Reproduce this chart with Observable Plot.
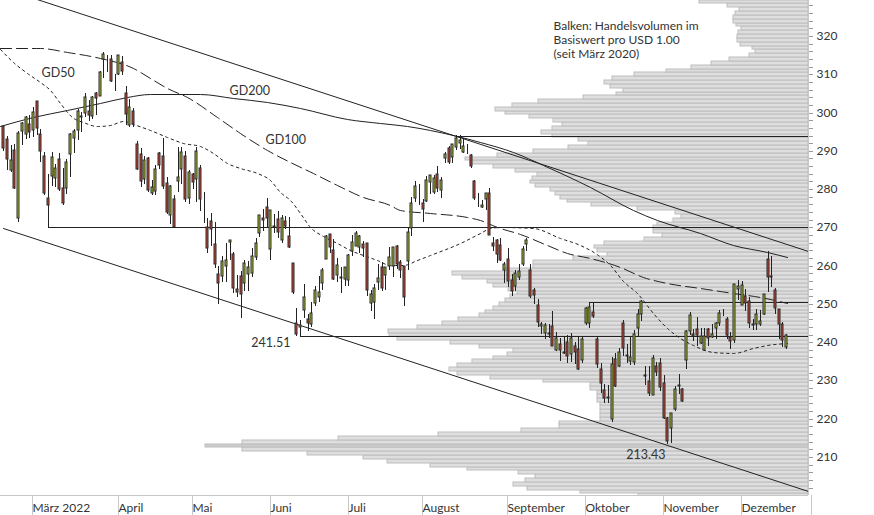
<!DOCTYPE html>
<html>
<head>
<meta charset="utf-8">
<script src="https://cdn.jsdelivr.net/npm/d3@7"></script>
<script src="https://cdn.jsdelivr.net/npm/@observablehq/plot@0.6"></script>
<style>
html,body{margin:0;padding:0;background:#fff;}
#chart svg{display:block;}
</style>
</head>
<body>
<div id="chart"></div>
<script>
// ---- Daily candles (trading days) ----
const dates = [
"2022-02-17","2022-02-18","2022-02-22","2022-02-23","2022-02-24","2022-02-25","2022-02-28",
"2022-03-01","2022-03-02","2022-03-03","2022-03-04","2022-03-07","2022-03-08","2022-03-09","2022-03-10","2022-03-11","2022-03-14","2022-03-15","2022-03-16","2022-03-17","2022-03-18","2022-03-21","2022-03-22","2022-03-23","2022-03-24","2022-03-25","2022-03-28","2022-03-29","2022-03-30","2022-03-31",
"2022-04-01","2022-04-04","2022-04-05","2022-04-06","2022-04-07","2022-04-08","2022-04-11","2022-04-12","2022-04-13","2022-04-14","2022-04-18","2022-04-19","2022-04-20","2022-04-21","2022-04-22","2022-04-25","2022-04-26","2022-04-27","2022-04-28","2022-04-29",
"2022-05-02","2022-05-03","2022-05-04","2022-05-05","2022-05-06","2022-05-09","2022-05-10","2022-05-11","2022-05-12","2022-05-13","2022-05-16","2022-05-17","2022-05-18","2022-05-19","2022-05-20","2022-05-23","2022-05-24","2022-05-25","2022-05-26","2022-05-27","2022-05-31",
"2022-06-01","2022-06-02","2022-06-03","2022-06-06","2022-06-07","2022-06-08","2022-06-09","2022-06-10","2022-06-13","2022-06-14","2022-06-15","2022-06-16","2022-06-17","2022-06-21","2022-06-22","2022-06-23","2022-06-24","2022-06-27","2022-06-28","2022-06-29","2022-06-30",
"2022-07-01","2022-07-05","2022-07-06","2022-07-07","2022-07-08","2022-07-11","2022-07-12","2022-07-13","2022-07-14","2022-07-15","2022-07-18","2022-07-19","2022-07-20","2022-07-21","2022-07-22","2022-07-25","2022-07-26","2022-07-27","2022-07-28","2022-07-29",
"2022-08-01","2022-08-02","2022-08-03","2022-08-04","2022-08-05","2022-08-08","2022-08-09","2022-08-10","2022-08-11","2022-08-12","2022-08-15","2022-08-16","2022-08-17","2022-08-18","2022-08-19","2022-08-22","2022-08-23","2022-08-24","2022-08-25","2022-08-26","2022-08-29","2022-08-30","2022-08-31",
"2022-09-01","2022-09-02","2022-09-06","2022-09-07","2022-09-08","2022-09-09","2022-09-12","2022-09-13","2022-09-14","2022-09-15","2022-09-16","2022-09-19","2022-09-20","2022-09-21","2022-09-22","2022-09-23","2022-09-26","2022-09-27","2022-09-28","2022-09-29","2022-09-30",
"2022-10-03","2022-10-04","2022-10-05","2022-10-06","2022-10-07","2022-10-10","2022-10-11","2022-10-12","2022-10-13","2022-10-14","2022-10-17","2022-10-18","2022-10-19","2022-10-20","2022-10-21","2022-10-24","2022-10-25","2022-10-26","2022-10-27","2022-10-28","2022-10-31",
"2022-11-01","2022-11-02","2022-11-03","2022-11-04","2022-11-07","2022-11-08","2022-11-09","2022-11-10","2022-11-11","2022-11-14","2022-11-15","2022-11-16","2022-11-17","2022-11-18","2022-11-21","2022-11-22","2022-11-23","2022-11-25","2022-11-28","2022-11-29","2022-11-30",
"2022-12-01","2022-12-02","2022-12-05","2022-12-06","2022-12-07","2022-12-08","2022-12-09","2022-12-12","2022-12-13","2022-12-14","2022-12-15","2022-12-16","2022-12-19","2022-12-20"
];
const open = [
296.36,293.05,285.00,290.18,272.51,295.14,294.31,
297.07,295.36,302.89,294.29,288.53,277.80,283.44,283.02,287.96,280.34,280.35,289.11,293.29,295.37,298.89,299.80,300.51,299.14,305.23,304.33,313.91,313.76,313.90,
309.37,310.09,313.27,305.19,296.66,300.44,291.79,289.24,282.73,288.09,278.91,279.38,289.40,288.58,281.68,273.29,277.50,282.10,285.19,288.61,
277.71,283.96,282.59,285.54,274.81,270.06,271.69,265.68,257.69,257.35,259.96,266.11,263.00,253.90,257.24,255.49,257.89,258.14,262.27,268.48,272.53,
275.20,264.45,270.31,272.06,266.64,271.71,267.78,260.58,245.11,243.86,248.31,245.98,244.70,250.26,251.89,255.57,261.81,268.21,263.98,257.59,257.05,
256.39,256.16,263.75,265.12,264.79,265.65,265.88,250.19,250.57,255.72,259.75,257.58,259.90,259.79,265.24,261.00,259.86,261.16,269.75,277.70,
277.82,276.48,276.76,281.97,279.15,284.05,279.64,288.17,290.85,288.48,291.00,291.99,289.74,290.19,288.90,282.08,276.44,275.41,277.33,279.08,265.85,266.67,265.39,
258.87,261.70,256.20,254.70,257.16,260.31,265.56,258.84,253.53,249.77,244.26,242.47,242.07,244.27,237.87,239.54,237.05,239.98,236.81,238.89,238.29,
235.41,245.09,245.01,247.93,240.90,233.05,227.62,225.40,219.85,235.54,233.77,245.10,236.60,235.17,234.74,243.76,247.26,231.17,229.77,226.24,233.76,
234.60,229.46,220.08,217.55,222.60,228.60,227.78,235.43,242.99,242.26,243.57,239.87,237.90,243.51,241.43,243.59,245.11,247.31,246.08,241.40,240.57,
253.87,249.82,252.01,250.82,244.83,244.83,244.70,247.45,261.69,257.13,253.72,248.55,244.86,238.79
];
const high = [
296.80,293.86,291.54,291.70,295.16,297.63,299.14,
299.30,301.47,303.13,295.66,289.69,283.96,289.60,286.60,289.51,285.40,287.82,294.57,295.61,301.00,300.14,305.00,303.23,304.20,305.50,310.80,315.95,315.14,315.14,
310.13,315.11,314.87,307.00,303.65,301.12,292.61,290.74,288.58,288.31,282.46,286.17,289.70,293.30,283.20,281.11,278.36,290.97,290.98,289.88,
284.94,284.13,290.88,286.35,279.25,272.36,273.75,271.36,259.88,262.45,265.82,266.60,263.60,257.67,258.54,261.50,261.33,264.58,267.11,273.34,274.77,
277.69,274.65,273.45,274.18,273.13,273.00,272.71,260.58,249.02,245.74,255.30,247.42,250.50,254.75,257.17,259.37,267.98,268.30,266.91,261.97,259.53,
259.77,262.98,267.99,269.06,268.10,266.53,265.94,253.55,255.14,260.37,260.84,259.72,264.87,264.89,265.33,261.50,259.88,270.05,277.84,282.00,
281.28,277.50,283.50,283.61,283.65,285.92,283.08,289.81,291.21,291.91,294.18,294.04,293.35,291.91,289.25,282.46,278.86,277.23,279.02,280.34,267.40,267.05,267.11,
260.89,264.74,257.83,258.84,260.35,265.06,267.27,260.40,254.23,251.40,245.30,245.14,244.74,248.21,242.67,241.13,241.45,241.80,242.33,239.95,241.44,
241.31,249.30,250.36,250.35,241.32,234.56,229.06,228.86,236.06,237.24,238.52,245.81,239.59,241.29,243.25,248.58,251.04,233.69,233.81,236.57,234.92,
235.74,231.30,220.41,221.59,228.58,231.65,228.10,243.08,247.99,243.34,246.58,243.80,243.75,243.74,244.67,245.29,248.28,248.70,246.65,242.79,255.33,
256.12,256.06,253.82,251.86,246.16,248.74,248.31,252.54,263.92,262.59,254.20,248.55,245.21,242.21
];
const low = [
290.00,284.98,284.50,280.10,271.52,291.65,293.00,
293.30,293.70,294.05,287.17,278.53,270.00,280.78,280.58,279.43,275.82,278.73,283.20,289.37,292.73,294.90,298.77,297.72,298.32,299.29,304.33,309.05,310.48,307.89,
305.54,309.71,309.87,296.71,296.35,296.28,285.00,280.49,281.30,279.32,278.34,278.41,285.37,280.06,273.38,270.77,270.00,279.16,281.46,276.50,
276.22,280.15,276.73,274.34,271.27,263.32,265.07,259.30,250.02,255.82,255.78,261.43,252.77,251.88,246.44,253.43,253.50,257.13,261.43,267.56,268.93,
270.04,261.60,268.41,267.22,265.94,269.61,264.63,252.53,241.53,241.51,246.42,243.02,244.03,249.51,250.37,253.63,261.72,263.28,256.32,255.76,252.90,
254.61,254.74,262.40,265.02,263.29,262.18,252.04,248.11,245.94,253.69,253.30,253.68,258.91,257.03,259.07,256.81,249.57,258.85,267.87,276.63,
275.84,271.30,276.61,278.80,278.68,279.32,277.61,286.94,286.51,286.94,290.11,290.42,289.47,289.08,285.56,277.22,275.40,275.11,274.52,267.98,263.85,260.66,261.33,
255.41,254.47,251.94,253.32,256.19,259.97,263.82,251.59,249.86,244.02,242.06,240.85,241.05,238.90,237.81,235.20,236.90,234.50,234.73,234.41,232.73,
234.62,244.62,243.73,246.37,233.27,226.73,224.11,224.07,219.13,228.34,233.43,236.42,234.51,233.92,234.09,241.29,245.47,228.79,225.85,226.18,231.15,
227.33,220.04,213.43,213.78,222.02,226.52,224.33,233.00,241.94,240.32,238.95,239.50,237.70,239.03,241.19,240.71,244.27,246.73,240.80,238.21,239.86,
250.91,249.69,248.06,243.78,243.06,243.08,244.16,247.17,253.07,254.31,247.34,240.93,238.71,238.21
];
const close = [
290.73,287.93,287.72,280.27,294.59,297.31,298.79,
294.95,300.19,295.92,289.86,278.91,275.85,288.50,285.59,280.07,276.44,287.15,294.39,295.22,300.43,299.16,304.06,299.49,304.10,303.68,310.70,315.41,313.86,308.31,
309.42,314.97,310.88,299.50,301.37,296.97,285.26,282.06,287.62,279.83,280.52,285.30,286.36,280.81,274.03,280.72,270.22,283.22,289.63,277.52,
284.47,281.78,289.98,277.35,274.73,264.58,269.50,260.55,255.35,261.12,261.50,266.82,254.08,253.14,252.56,260.65,259.62,262.52,265.90,273.24,271.87,
272.42,274.58,270.02,268.75,272.50,270.41,264.79,252.99,242.26,244.49,251.76,244.97,247.65,253.74,253.13,258.86,267.70,264.89,256.48,260.26,256.83,
259.58,262.85,266.21,268.40,267.66,264.51,253.67,252.72,254.08,256.72,254.25,259.53,262.27,264.84,260.36,258.83,251.90,268.74,276.41,280.74,
278.01,274.82,282.47,283.65,282.91,280.32,282.30,289.16,287.02,291.91,293.47,292.71,291.32,290.17,286.15,277.75,276.44,275.79,278.85,268.09,265.23,262.97,261.47,
260.40,256.06,253.25,258.09,258.52,264.46,266.65,251.99,252.22,245.38,244.74,244.52,242.45,238.95,240.98,237.92,237.45,236.41,241.07,237.50,232.90,
240.74,248.88,249.20,246.79,234.24,229.25,225.41,225.75,234.24,228.56,237.53,238.50,236.48,236.15,242.12,247.25,250.66,231.32,226.75,235.87,232.13,
228.17,220.10,214.25,221.39,227.87,228.87,224.51,242.98,247.11,241.55,241.97,241.73,241.68,241.22,242.05,245.03,247.58,247.49,241.76,240.33,255.14,
254.69,255.02,250.20,245.12,244.37,247.40,245.42,252.51,256.92,257.22,249.01,244.69,240.45,241.80
];

// ---- Month labels (bottom axis) ----
const monthLabels = ["März 2022","April","Mai","Juni","Juli","August","September","Oktober","November","Dezember"];

// ---- Volume profile: one bar per USD 1.00, from 200 to 329 (relative volume, %) ----
const volumeFirstPrice = 200;
const volume = [
28.2,37.8,46.6,48.9,46.9,45.3,48.1,56.6,62.7,69.8,
73.8,83.1,93.9,100,93.9,77.9,61.4,47.6,41.3,41.3,
34.5,34.5,34.5,34.5,34.5,35.0,35.0,35.0,36.2,36.2,
43.9,52.7,58.2,59.5,58.2,55.7,52.2,49.9,48.9,54.6,
59.4,68.2,69.5,69.7,64.8,60.7,58.0,54.6,53.6,52.2,
51.2,50.2,49.4,48.3,49.8,52.2,53.2,57.4,59.0,50.2,
45.6,45.6,39.0,33.3,35.0,35.5,33.8,27.2,24.2,25.7,
25.7,25.0,22.4,21.1,22.1,28.4,36.0,40.0,41.1,42.0,
42.8,45.3,46.1,45.8,44.9,48.6,52.2,56.1,56.9,51.6,
45.6,39.8,36.5,38.1,42.5,44.3,42.5,40.8,42.3,46.3,
50.2,51.9,49.1,44.8,37.3,31.8,30.7,32.8,33.8,32.5,
28.9,23.5,19.4,16.1,13.1,9.8,8.8,9.3,11.3,11.8,
11.8,11.6,11.1,11.9,12.4,12.4,12.1,11.4,13.4,18.1
];

// ---- Moving averages: [trading-day position, value] ----
const gd50 = [[-0.89,316.6],[2.61,313.2],[6.39,310.3],[9.89,308.0],[12.59,305.9],[15.28,302.5],[18.52,298.8],[21.48,297.5],[25.26,296.5],[28.76,296.8],[32.26,297.8],[34.96,297.0],[39.54,295.4],[44.12,293.6],[48.44,292.0],[53.02,291.3],[56.52,289.4],[60.3,286.8],[63.8,285.5],[68.38,284.2],[71.88,282.4],[74.58,279.2],[77.28,277.2],[79.97,273.8],[82.67,270.1],[86.17,267.7],[89.95,265.9],[93.45,264.1],[96.95,262.8],[100.73,261.5],[104.23,260.2],[107.73,260.2],[111.51,261.5],[115.01,262.8],[123.1,265.9],[128.49,268.5],[131.19,269.8],[133.88,270.1],[142.78,269.8],[150.05,267.2],[155.44,265.4],[160.3,262.8],[163.53,260.2],[167.04,256.0],[170.81,252.9],[175.13,247.6],[178.9,243.7],[182.4,241.1],[185.9,239.3],[191.3,237.4],[196.7,237.2],[202.1,238.5],[205.8,239.3],[211.2,239.8]];
const gd100 = [[-0.89,316.9],[9.89,316.9],[17.17,315.8],[26.06,314.3],[34.96,311.6],[39.54,309.0],[44.12,306.4],[49.51,304.1],[57.6,298.8],[63.8,294.7],[71.08,290.2],[77.28,287.1],[83.48,284.2],[89.95,281.1],[96.95,277.9],[104.23,275.8],[106.93,274.5],[115.01,273.8],[124.98,272.7],[128.49,271.9],[133.07,270.1],[139.27,268.3],[146.55,265.4],[151.94,263.3],[158.14,262.0],[166.23,259.6],[172.43,257.0],[178.9,255.5],[187.79,254.2],[196.69,252.9],[203.97,251.8],[211.2,250.3]];
const gd200 = [[-0.89,296.5],[8.0,298.8],[17.17,300.7],[26.06,302.5],[33.34,304.1],[39.54,304.9],[53.02,304.9],[61.9,303.8],[71.08,302.8],[79.97,301.2],[92.64,298.3],[101.53,297.3],[108.81,296.5],[115.01,295.4],[122.29,293.9],[128.49,292.3],[137.38,289.7],[145.47,286.3],[158.14,280.6],[169.73,274.5],[176.2,271.9],[187.79,268.5],[196.69,265.4],[205.85,263.6],[211.24,262.3]];

// ---- Trend channel (two points each) ----
const trendPos = [0, 216.9];
const trendUpper = [332.65, 263.8];
const trendLower = [269.82, 201.1];

// ---- Horizontal support / resistance lines ----
const levelDates = ["2022-03-08","2022-06-14","2022-08-15","2022-10-05"];
const levelValues = [270.0, 241.51, 293.8, 250.4];

const captionLines = ["Balken: Handelsvolumen im","Basiswert pro USD 1.00","(seit März 2020)"];
const maLabels = ["GD50","GD200","GD100"];

// ---------------------------------------------------------------
const X0 = -0.89, X1 = 216.9, Y0 = 200.07, Y1 = 329.41;
const GREEN = "#adc12b", RED = "#d0432d", INK = "#222";
const idx = new Map(dates.map((d,i)=>[d,i]));
const candles = dates.map((d,i)=>({i, o:open[i], h:high[i], l:low[i], c:close[i]}));
const monthStarts = [];
for (let i=1;i<dates.length;i++) if (dates[i].slice(5,7)!==dates[i-1].slice(5,7)) monthStarts.push(i);
const tickLabel = new Map(monthStarts.map((i,k)=>[i, monthLabels[k]]));
const vmax = d3.max(volume);
const VOL_SPAN = 162.5;
const bars = volume.map((v,k)=>({p: volumeFirstPrice + k, v}));
const levels = levelDates.map((d,k)=>({i: idx.get(d), v: levelValues[k]}));
const up = trendPos.map((x,k)=>({x, y: trendUpper[k]}));
const lo = trendPos.map((x,k)=>({x, y: trendLower[k]}));
const ma = a => a.map(([x,y])=>({x,y}));
const hw = 1/3.71;
const iLow = d3.minIndex(low);
const iJun = idx.get("2022-06-14");

const chart = Plot.plot({
  width: 874, height: 515,
  marginLeft: 0, marginTop: 0, marginRight: 66, marginBottom: 20,
  x: {domain: [X0, X1], round: true},
  y: {domain: [Y0, Y1], round: true},
  style: {fontFamily: "Lato, sans-serif", fontSize: "12px", background: "#fff", color: "#333"},
  marks: [
    Plot.rect(bars, {x1: d => X1 - d.v/vmax*VOL_SPAN, x2: () => X1, y1: d => d.p - 0.5, y2: d => d.p + 0.5,
      fill: d => d.v === vmax ? "#cdcdcd" : "#dedede", stroke: "#bdbdbd", strokeWidth: 1, clip: true}),
    Plot.ruleY([Y0], {stroke: "#c8c8c8"}),
    Plot.ruleX([X1], {stroke: "#c8c8c8"}),
    Plot.axisX([...monthStarts, X1], {tickSize: 20, tickPadding: -12, tickFormat: i => tickLabel.get(i) ?? "",
      textAnchor: "start", dx: 3, stroke: "#c8c8c8", color: "#333", fontSize: 12, label: null}),
    Plot.axisY(d3.range(202, 330, 2), {anchor: "right", tickSize: 4, tickPadding: 4,
      tickFormat: d => d % 10 === 0 ? String(d) : "", stroke: "#9a9a9a", color: "#333", fontSize: 12, label: null}),
    Plot.line(up, {x: "x", y: "y", stroke: INK, strokeWidth: 1, clip: true}),
    Plot.line(lo, {x: "x", y: "y", stroke: INK, strokeWidth: 1, clip: true}),
    Plot.ruleY(levels, {y: "v", x1: "i", x2: () => X1, stroke: INK, strokeWidth: 1.2}),
    Plot.line(ma(gd200), {x: "x", y: "y", stroke: INK, strokeWidth: 1, curve: "monotone-x"}),
    Plot.line(ma(gd100), {x: "x", y: "y", stroke: INK, strokeWidth: 1, strokeDasharray: "11,5", curve: "monotone-x"}),
    Plot.line(ma(gd50), {x: "x", y: "y", stroke: INK, strokeWidth: 1, strokeDasharray: "2.5,3.5", curve: "monotone-x"}),
    Plot.ruleX(candles, {x: "i", y1: "l", y2: "h", stroke: INK, strokeWidth: 1}),
    Plot.rect(candles, {x1: d => d.i - hw, x2: d => d.i + hw, y1: d => Math.min(d.o, d.c), y2: d => Math.max(d.o, d.c),
      fill: d => d.c >= d.o ? GREEN : RED, stroke: "#2a2a2a", strokeWidth: 1}),
    Plot.text([maLabels[0]], {x: 10.2, y: 310.7, text: d => d, textAnchor: "start", lineAnchor: "middle", fontSize: 12.5, fill: "#333"}),
    Plot.text([maLabels[1]], {x: 60.8, y: 306.0, text: d => d, textAnchor: "start", lineAnchor: "middle", fontSize: 12.5, fill: "#333"}),
    Plot.text([maLabels[2]], {x: 70.5, y: 292.96, text: d => d, textAnchor: "start", lineAnchor: "middle", fontSize: 12.5, fill: "#333"}),
    Plot.text([iJun], {x: d => d, y: d => low[d], text: d => low[d].toFixed(2), textAnchor: "end", lineAnchor: "middle", dx: -10, dy: 6, fontSize: 12.5, fill: "#333"}),
    Plot.text([iLow], {x: d => d, y: d => low[d], text: d => low[d].toFixed(2), textAnchor: "end", lineAnchor: "middle", dx: -2, dy: 10.5, fontSize: 12.5, fill: "#333"}),
    Plot.text([captionLines.join("\n")], {x: 148.2, y: 324.45, text: d => d, textAnchor: "start", lineAnchor: "top", lineHeight: 1.19, fontSize: 12, fill: "#333"})
  ]
});
document.getElementById("chart").appendChild(chart);
</script>
</body>
</html>
